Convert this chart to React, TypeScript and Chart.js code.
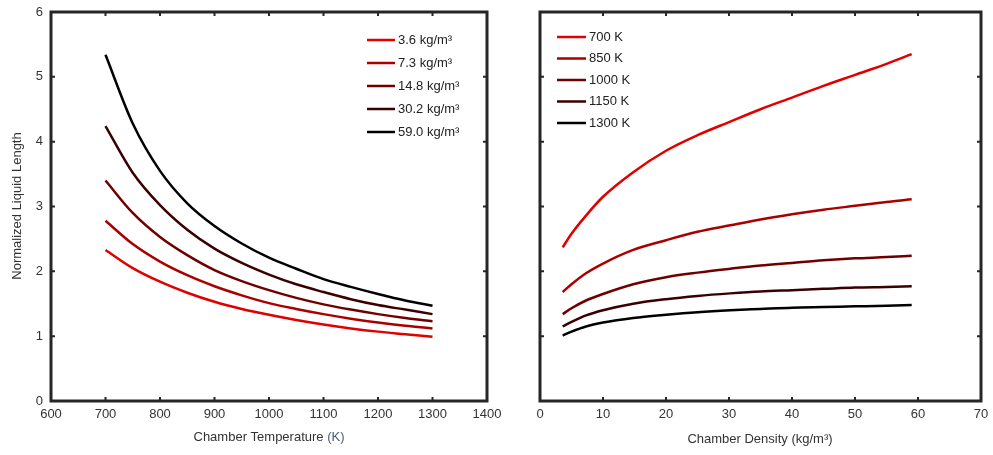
import React, { useEffect, useRef } from "react";
import { Chart, registerables } from "chart.js";

Chart.register(...registerables);

// ---------- Left panel data: liquid length vs chamber temperature ----------
const temperatures = [700, 750, 800, 850, 900, 950, 1000, 1050, 1100, 1150, 1200, 1250, 1300];
const densitySeriesLabels = ["3.6 kg/m³", "7.3 kg/m³", "14.8 kg/m³", "30.2 kg/m³", "59.0 kg/m³"];
const lenRho3_6 = [2.33, 2.05, 1.84, 1.67, 1.53, 1.42, 1.33, 1.25, 1.18, 1.12, 1.07, 1.03, 0.99];
const lenRho7_3 = [2.78, 2.42, 2.15, 1.94, 1.77, 1.63, 1.51, 1.42, 1.34, 1.27, 1.21, 1.16, 1.12];
const lenRho14_8 = [3.40, 2.90, 2.53, 2.25, 2.02, 1.85, 1.71, 1.59, 1.49, 1.41, 1.34, 1.28, 1.23];
const lenRho30_2 = [4.24, 3.52, 3.02, 2.64, 2.35, 2.13, 1.95, 1.80, 1.68, 1.57, 1.48, 1.41, 1.34];
const lenRho59_0 = [5.34, 4.28, 3.55, 3.05, 2.70, 2.43, 2.21, 2.04, 1.88, 1.76, 1.65, 1.55, 1.47];

// ---------- Right panel data: liquid length vs chamber density ----------
const densities = [3.6, 5, 7.3, 10, 14.8, 20, 25, 30.2, 35, 40, 45, 50, 55, 59.0];
const tempSeriesLabels = ["700 K", "850 K", "1000 K", "1150 K", "1300 K"];
const len700K = [2.37, 2.58, 2.86, 3.15, 3.53, 3.86, 4.10, 4.31, 4.50, 4.68, 4.86, 5.03, 5.20, 5.35];
const len850K = [1.68, 1.80, 1.97, 2.12, 2.33, 2.48, 2.61, 2.71, 2.80, 2.88, 2.95, 3.01, 3.07, 3.11];
const len1000K = [1.34, 1.43, 1.55, 1.65, 1.80, 1.91, 1.98, 2.04, 2.09, 2.13, 2.17, 2.20, 2.22, 2.24];
const len1150K = [1.15, 1.22, 1.32, 1.40, 1.50, 1.57, 1.62, 1.66, 1.69, 1.71, 1.73, 1.75, 1.76, 1.77];
const len1300K = [1.01, 1.07, 1.15, 1.21, 1.28, 1.33, 1.37, 1.40, 1.42, 1.44, 1.45, 1.46, 1.47, 1.48];

const tempTicks = [600, 700, 800, 900, 1000, 1100, 1200, 1300, 1400];
const densityTicks = [0, 10, 20, 30, 40, 50, 60, 70];
const lengthTicks = [0, 1, 2, 3, 4, 5, 6];

const shades = ["#e00000", "#aa0000", "#700000", "#3a0000", "#000000"];

const FONT = "'Liberation Sans', Arial, Helvetica, sans-serif";
const TEXT = "#333333";
const AXIS = "#262626";

type FrameOpts = {
  xTicks: number[];
  yTicks: number[];
  legendX: number;
  legendY: number;
  legendGap: number;
  legendLine: number;
  titleX: number;
  titleY: number;
  titleParts: { text: string; color: string }[];
  yTitle?: { x: number; y: number; text: string };
};

const framePlugin = {
  id: "frame",
  afterDraw(chart: any, _args: any, o: FrameOpts) {
    const ctx = chart.ctx as CanvasRenderingContext2D;
    const { left, right, top, bottom } = chart.chartArea;
    const xs = chart.scales.x;
    const ys = chart.scales.y;
    ctx.save();
    ctx.strokeStyle = AXIS;
    ctx.lineWidth = 3;
    ctx.strokeRect(left, top, right - left, bottom - top);
    ctx.lineWidth = 2;
    const tl = 4;
    ctx.beginPath();
    for (const v of o.xTicks) {
      const px = xs.getPixelForValue(v);
      if (px <= left + 1 || px >= right - 1) continue;
      ctx.moveTo(px, bottom);
      ctx.lineTo(px, bottom - tl);
      ctx.moveTo(px, top);
      ctx.lineTo(px, top + tl);
    }
    for (const v of o.yTicks) {
      const py = ys.getPixelForValue(v);
      if (py <= top + 1 || py >= bottom - 1) continue;
      ctx.moveTo(left, py);
      ctx.lineTo(left + tl, py);
      ctx.moveTo(right, py);
      ctx.lineTo(right - tl, py);
    }
    ctx.stroke();

    // legend
    ctx.font = `13px ${FONT}`;
    ctx.textBaseline = "middle";
    ctx.textAlign = "left";
    chart.data.datasets.forEach((ds: any, i: number) => {
      const y = o.legendY + i * o.legendGap;
      ctx.strokeStyle = ds.borderColor;
      ctx.lineWidth = 2.5;
      ctx.beginPath();
      ctx.moveTo(o.legendX, y);
      ctx.lineTo(o.legendX + o.legendLine, y);
      ctx.stroke();
      ctx.fillStyle = "#222222";
      ctx.fillText(ds.label, o.legendX + o.legendLine + 3, y);
    });

    // x title
    ctx.font = `13px ${FONT}`;
    ctx.textBaseline = "middle";
    const total = o.titleParts.reduce((s, p) => s + ctx.measureText(p.text).width, 0);
    let x = o.titleX - total / 2;
    for (const p of o.titleParts) {
      ctx.fillStyle = p.color;
      ctx.fillText(p.text, x, o.titleY);
      x += ctx.measureText(p.text).width;
    }

    // y title
    if (o.yTitle) {
      ctx.save();
      ctx.translate(o.yTitle.x, o.yTitle.y);
      ctx.rotate(-Math.PI / 2);
      ctx.textAlign = "center";
      ctx.fillStyle = TEXT;
      ctx.fillText(o.yTitle.text, 0, 0);
      ctx.restore();
    }
    ctx.restore();
  },
};

function makeDatasets(xs: number[], series: number[][], labels: string[]) {
  return series.map((s, i) => ({
    label: labels[i],
    data: xs.map((x, j) => ({ x, y: s[j] })),
    borderColor: shades[i],
    backgroundColor: shades[i],
    borderWidth: 2.5,
    pointRadius: 0,
    cubicInterpolationMode: "monotone" as const,
    fill: false,
  }));
}

function scaleOpts(min: number, max: number, step: number, show: boolean, fit: (s: any) => void, pad: number) {
  return {
    type: "linear" as const,
    min,
    max,
    afterFit: fit,
    grid: { display: false, drawTicks: false },
    border: { display: false },
    ticks: {
      display: show,
      stepSize: step,
      padding: pad,
      color: TEXT,
      autoSkip: false,
      maxRotation: 0,
      font: { family: FONT, size: 13 },
      callback: (v: any) => String(v),
    },
  };
}

function PanelChart(props: {
  width: number;
  left: number;
  datasets: any[];
  xMin: number;
  xMax: number;
  xStep: number;
  yLabels: boolean;
  yAxisWidth: number;
  padRight: number;
  frame: FrameOpts;
}) {
  const ref = useRef<HTMLCanvasElement | null>(null);
  useEffect(() => {
    if (!ref.current) return;
    const chart = new Chart(ref.current, {
      type: "line",
      data: { datasets: props.datasets },
      plugins: [framePlugin],
      options: {
        animation: false,
        responsive: false,
        devicePixelRatio: 1,
        layout: { autoPadding: false, padding: { left: 0, right: props.padRight, top: 12, bottom: 0 } },
        plugins: {
          legend: { display: false },
          tooltip: { enabled: false },
          frame: props.frame,
        } as any,
        scales: {
          x: scaleOpts(props.xMin, props.xMax, props.xStep, true, (s: any) => {
            s.height = 54;
            s.paddingLeft = 0;
            s.paddingRight = 0;
          }, 6),
          y: scaleOpts(0, 6, 1, props.yLabels, (s: any) => {
            s.width = props.yAxisWidth;
            s.paddingTop = 0;
            s.paddingBottom = 0;
          }, 8),
        },
      } as any,
    });
    return () => chart.destroy();
  }, []);
  return (
    <canvas
      ref={ref}
      width={props.width}
      height={455}
      style={{ position: "absolute", left: props.left, top: 0, width: props.width, height: 455 }}
    />
  );
}

export default function App() {
  const leftSets = makeDatasets(temperatures, [lenRho3_6, lenRho7_3, lenRho14_8, lenRho30_2, lenRho59_0], densitySeriesLabels);
  const rightSets = makeDatasets(densities, [len700K, len850K, len1000K, len1150K, len1300K], tempSeriesLabels);
  return (
    <div style={{ position: "fixed", left: 0, top: 0, width: 993, height: 455, background: "#ffffff", overflow: "hidden" }}>
      <PanelChart
        width={510}
        left={0}
        datasets={leftSets}
        xMin={600}
        xMax={1400}
        xStep={100}
        yLabels={true}
        yAxisWidth={51}
        padRight={23}
        frame={{
          xTicks: tempTicks,
          yTicks: lengthTicks,
          legendX: 367,
          legendY: 40,
          legendGap: 23,
          legendLine: 28,
          titleX: 269,
          titleY: 437,
          titleParts: [
            { text: "Chamber Temperature ", color: TEXT },
            { text: "(K)", color: "#4a5878" },
          ],
          yTitle: { x: 17, y: 206, text: "Normalized Liquid Length" },
        }}
      />
      <PanelChart
        width={483}
        left={510}
        datasets={rightSets}
        xMin={0}
        xMax={70}
        xStep={10}
        yLabels={false}
        yAxisWidth={30}
        padRight={12}
        frame={{
          xTicks: densityTicks,
          yTicks: lengthTicks,
          legendX: 47,
          legendY: 37,
          legendGap: 21.5,
          legendLine: 29,
          titleX: 250,
          titleY: 439,
          titleParts: [{ text: "Chamber Density (kg/m³)", color: TEXT }],
        }}
      />
    </div>
  );
}
